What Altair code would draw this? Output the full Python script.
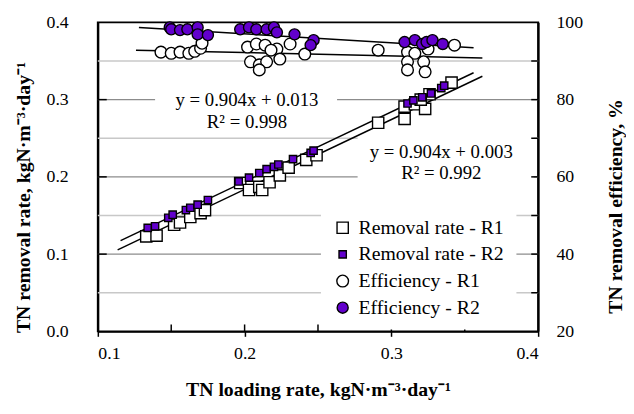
import altair as alt
import pandas as pd

# ---------------- data ----------------
# TN removal rate, reactor R1 (white squares)
r1_load = [0.133, 0.140, 0.152, 0.156, 0.163, 0.170, 0.173,
           0.197, 0.203, 0.210, 0.212, 0.217, 0.224, 0.230, 0.242, 0.249,
           0.291, 0.309, 0.309, 0.316, 0.323, 0.326, 0.320, 0.341]
r1_rate = [0.123, 0.124, 0.138, 0.141, 0.148, 0.153, 0.157,
           0.192, 0.183, 0.187, 0.183, 0.193, 0.202, 0.212, 0.222, 0.228,
           0.270, 0.291, 0.275, 0.294, 0.288, 0.307, 0.300, 0.322]
# TN removal rate, reactor R2 (purple squares)
r2_load = [0.134, 0.139, 0.148, 0.151, 0.160, 0.163, 0.168, 0.175,
           0.196, 0.203, 0.210, 0.215, 0.220, 0.223, 0.233, 0.245, 0.247,
           0.311, 0.315, 0.321, 0.327, 0.334, 0.336]
r2_rate = [0.134, 0.136, 0.147, 0.151, 0.157, 0.160, 0.164, 0.170,
           0.194, 0.199, 0.205, 0.210, 0.213, 0.216, 0.223, 0.231, 0.234,
           0.295, 0.299, 0.303, 0.308, 0.315, 0.318]
# TN removal efficiency, R1 (white circles)
e1_load = [0.143, 0.150, 0.156, 0.162, 0.166, 0.170, 0.171,
           0.202, 0.208, 0.214, 0.222, 0.231, 0.241, 0.204, 0.210, 0.215, 0.224, 0.210, 0.218,
           0.291,
           0.311, 0.316, 0.325, 0.343, 0.311, 0.311, 0.322, 0.323]
e1_eff = [92.3, 92.0, 92.3, 92.0, 92.5, 93.3, 94.6,
          93.6, 94.4, 94.1, 93.1, 94.4, 91.8, 89.8, 89.0, 89.8, 90.5, 87.7, 92.8,
          92.8,
          92.3, 92.0, 93.1, 94.1, 89.8, 87.7, 89.8, 87.2]
# TN removal efficiency, R2 (purple circles)
e2_load = [0.149, 0.150, 0.156, 0.161, 0.168, 0.168, 0.175,
           0.197, 0.203, 0.208, 0.215, 0.220, 0.222, 0.234, 0.247, 0.245,
           0.309, 0.316, 0.321, 0.324, 0.328, 0.335]
e2_eff = [98.7, 98.2, 98.0, 98.2, 98.7, 96.9, 96.7,
          98.2, 98.7, 98.2, 98.2, 98.7, 97.4, 96.9, 95.4, 94.1,
          94.9, 95.4, 94.4, 94.9, 95.4, 94.4]

# linear trend lines (end points)
fit_rate_r2_x = [0.1155, 0.356]
fit_rate_r2_y = [0.1174, 0.3348]   # y = 0.904x + 0.013
fit_rate_r1_x = [0.1135, 0.362]
fit_rate_r1_y = [0.1056, 0.3302]   # y = 0.904x + 0.003
fit_eff_r2_x = [0.128, 0.356]
fit_eff_r2_y = [98.7, 93.4]
fit_eff_r1_x = [0.126, 0.362]
fit_eff_r1_y = [92.8, 90.8]

series_names = ["Removal rate - R1", "Removal rate - R2",
                "Efficiency - R1", "Efficiency - R2"]

eq_text = ["y = 0.904x + 0.013", "R² = 0.998", "y = 0.904x + 0.003", "R² = 0.992"]
eq_x = [0.2016, 0.2016, 0.334, 0.334]
eq_y = [0.300, 0.271, 0.2315, 0.2045]

# white text boxes (in data units) that hide the gridlines
box_x = [0.139, 0.277]
box_x2 = [0.263, 0.397]
box_y = [0.262, 0.194]
box_y2 = [0.312, 0.256]

grid_major = [0.1, 0.2, 0.3]
grid_minor = [0.05, 0.15, 0.25, 0.35]
x_ticks = [0.15, 0.2, 0.25, 0.3, 0.35]
x_labels = [0.1, 0.2, 0.3, 0.4]
left_ticks = [0.1, 0.2, 0.3]
left_labels = [0.0, 0.1, 0.2, 0.3, 0.4]
right_ticks = [30, 40, 50, 60, 70, 80, 90]
right_labels = [20, 40, 60, 80, 100]

# ---------------- tables ----------------
rate_df = pd.DataFrame({
    "load": r1_load + r2_load,
    "val": r1_rate + r2_rate,
    "series": [series_names[0]] * len(r1_load) + [series_names[1]] * len(r2_load),
})
eff_df = pd.DataFrame({
    "load": e1_load + e2_load,
    "val": e1_eff + e2_eff,
    "series": [series_names[2]] * len(e1_load) + [series_names[3]] * len(e2_load),
})
fit_rate_df = pd.DataFrame({
    "load": fit_rate_r2_x + fit_rate_r1_x,
    "val": fit_rate_r2_y + fit_rate_r1_y,
    "line": ["r2", "r2", "r1", "r1"],
})
fit_eff_df = pd.DataFrame({
    "load": fit_eff_r2_x + fit_eff_r1_x,
    "val": fit_eff_r2_y + fit_eff_r1_y,
    "line": ["r2", "r2", "r1", "r1"],
})
eq_df = pd.DataFrame({"load": eq_x, "val": eq_y, "txt": eq_text})
box_df = pd.DataFrame({"load": box_x, "load2": box_x2, "val": box_y, "val2": box_y2})
gmaj_df = pd.DataFrame({"val": grid_major})
gmin_df = pd.DataFrame({"val": grid_minor})
xt_df = pd.DataFrame({"load": x_ticks})
lt_df = pd.DataFrame({"val": left_ticks})
rt_df = pd.DataFrame({"val": right_ticks})

FONT = "Liberation Serif"
PURPLE = "#6200cc"
W, H = 446, 313

xs = alt.Scale(domain=[0.1, 0.4], nice=False, zero=False)
ys_rate = alt.Scale(domain=[0.0, 0.4], nice=False, zero=False)
ys_eff = alt.Scale(domain=[20, 100], nice=False, zero=False)

sym_fill = alt.Scale(domain=series_names, range=["white", PURPLE, "white", PURPLE])
sym_stroke = alt.Scale(domain=series_names, range=["black", "black", "black", "black"])
sym_shape = alt.Scale(domain=series_names, range=["square", "square", "circle", "circle"])
sym_size = alt.Scale(type="ordinal", domain=series_names, range=[130, 55, 140, 125])

legend = alt.Legend(
    title=None, orient="none", legendX=226, legendY=186,
    fillColor="white", padding=12, rowPadding=7,
    labelFont=FONT, labelFontSize=20, labelColor="black", labelLimit=300,
    labelOffset=6, symbolStrokeWidth=1.4,
)

x_axis = alt.Axis(
    values=x_labels, format=".1f", title="TN loading rate, kgN·m⁻³·day⁻¹",
    labelFont=FONT, labelFontSize=18, labelColor="black", labelPadding=8,
    tickSize=5, tickColor="black", tickWidth=1.5,
    domainColor="black", domainWidth=2, grid=False,
    titleFont=FONT, titleFontSize=20, titleFontWeight="bold", titleColor="black",
    titleY=49,
)
left_axis = alt.Axis(
    values=left_labels, format=".1f", title="TN removal rate, kgN·m⁻³·day⁻¹",
    labelFont=FONT, labelFontSize=18, labelColor="black", labelPadding=30,
    tickSize=0, domainColor="black", domainWidth=2, grid=False,
    titleFont=FONT, titleFontSize=20, titleFontWeight="bold", titleColor="black",
    titleX=-65, titleY=177,
)
right_axis = alt.Axis(
    orient="right", values=right_labels, format="d", title="TN removal efficiency, %",
    labelFont=FONT, labelFontSize=18, labelColor="black", labelPadding=18,
    tickSize=0, domainColor="black", domainWidth=2, grid=False,
    titleFont=FONT, titleFontSize=20, titleFontWeight="bold", titleColor="black",
    titleAngle=270, titleBaseline="bottom", titleX=88, titleY=186,
)

X = lambda f: alt.X(f, scale=xs, axis=x_axis)
YL = lambda f: alt.Y(f, scale=ys_rate, axis=left_axis)
YR = lambda f: alt.Y(f, scale=ys_eff, axis=right_axis)

# ---------------- left-scale layer ----------------
grid_minor_l = alt.Chart(gmin_df).mark_rule(color="#c8c8c8", strokeWidth=1.5).encode(
    y=YL("val:Q"))
grid_major_l = alt.Chart(gmaj_df).mark_rule(color="#8c8c8c", strokeWidth=1.5).encode(
    y=YL("val:Q"))
boxes = alt.Chart(box_df).mark_rect(color="white").encode(
    x=X("load:Q"), x2="load2:Q", y=YL("val:Q"), y2="val2:Q")
rate_lines = alt.Chart(fit_rate_df).mark_line(color="black", strokeWidth=1.5).encode(
    x=X("load:Q"), y=YL("val:Q"), detail="line:N")
rate_pts = alt.Chart(rate_df).mark_point(
    filled=True, strokeWidth=1.4, opacity=1).encode(
    x=X("load:Q"), y=YL("val:Q"),
    fill=alt.Fill("series:N", scale=sym_fill, legend=legend),
    stroke=alt.Stroke("series:N", scale=sym_stroke, legend=legend),
    shape=alt.Shape("series:N", scale=sym_shape, legend=legend),
    size=alt.Size("series:N", scale=sym_size, legend=legend),
    order=alt.Order("series:N"))
eq_text_l = alt.Chart(eq_df).mark_text(
    font=FONT, fontSize=19, color="black", align="center", baseline="middle").encode(
    x=X("load:Q"), y=YL("val:Q"), text="txt:N")
xtick_l = alt.Chart(xt_df).mark_rule(color="black", strokeWidth=1.5).encode(
    x=X("load:Q"), y=alt.value(H), y2=alt.value(H - 7))
ltick_l = alt.Chart(lt_df).mark_rule(color="black", strokeWidth=1.5).encode(
    y=YL("val:Q"), x=alt.value(0), x2=alt.value(9))

left_layer = alt.layer(grid_minor_l, grid_major_l, boxes, rate_lines, rate_pts,
                       eq_text_l, xtick_l, ltick_l)

# ---------------- right-scale layer ----------------
eff_lines = alt.Chart(fit_eff_df).mark_line(color="black", strokeWidth=1.5).encode(
    x=X("load:Q"), y=YR("val:Q"), detail="line:N")
eff_pts = alt.Chart(eff_df).mark_point(
    filled=True, strokeWidth=1.4, opacity=1).encode(
    x=X("load:Q"), y=YR("val:Q"),
    fill=alt.Fill("series:N", scale=sym_fill, legend=legend),
    stroke=alt.Stroke("series:N", scale=sym_stroke, legend=legend),
    shape=alt.Shape("series:N", scale=sym_shape, legend=legend),
    size=alt.Size("series:N", scale=sym_size, legend=legend),
    order=alt.Order("series:N"))
rtick_l = alt.Chart(rt_df).mark_rule(color="black", strokeWidth=1.5).encode(
    y=YR("val:Q"), x=alt.value(W - 7), x2=alt.value(W))

right_layer = alt.layer(eff_lines, eff_pts, rtick_l)

chart = alt.layer(left_layer, right_layer).resolve_scale(
    y="independent"
).properties(
    width=W, height=H,
    autosize=alt.AutoSizeParams(type="none"),
    padding={"left": 91, "top": 12, "right": 89, "bottom": 70},
    background="white",
).configure(
    font=FONT
).configure_axis(
    labelFont=FONT, titleFont=FONT
).configure_legend(
    labelFont=FONT
).configure_view(
    stroke="black", strokeWidth=2
)

chart.save("out.html", embed_options={"renderer": "svg", "actions": False})
